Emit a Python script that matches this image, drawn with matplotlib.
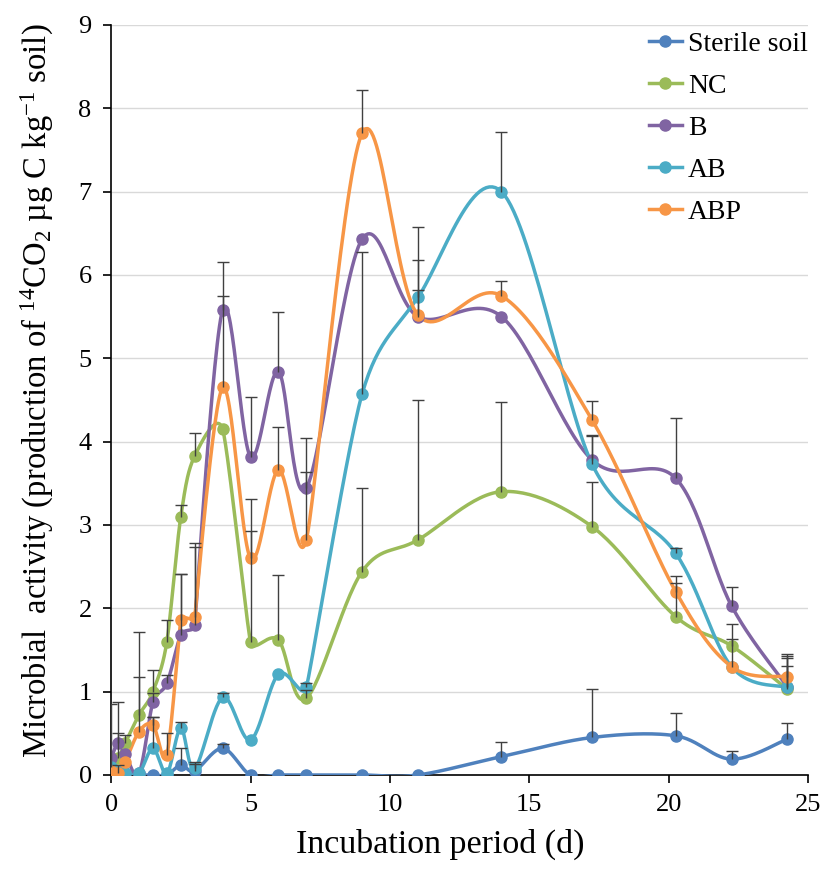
import matplotlib
matplotlib.use("Agg")
import matplotlib.pyplot as plt
import numpy as np
from matplotlib.lines import Line2D

plt.rcParams["font.family"] = ["Liberation Serif", "DejaVu Serif"]
plt.rcParams["mathtext.fontset"] = "custom"
plt.rcParams["mathtext.rm"] = "Liberation Serif"
plt.rcParams["mathtext.it"] = "Liberation Serif:italic"

# dias de incubacao
dias = [0, 0.25, 0.5, 1, 1.5, 2, 2.5, 3, 4, 5, 6, 7, 9, 11, 14, 17.25, 20.25, 22.25, 24.25]

esteril = [0.15, 0.05, 0.02, 0, 0, 0, 0.12, 0.05, 0.32, 0, 0, 0, 0, 0, 0.22, 0.45, 0.47, 0.19, 0.43]
esteril_err = [0, 0, 0, 0, 0, 0, 0.2, 0.1, 0.05, 0, 0, 0, 0, 0, 0.18, 0.58, 0.27, 0.1, 0.19]

nc = [0.1, 0.2, 0.38, 0.72, 1.0, 1.6, 3.1, 3.83, 4.15, 1.6, 1.62, 0.92, 2.44, 2.82, 3.4, 2.98, 1.9, 1.55, 1.03]
nc_err = [0.75, 0.3, 0.1, 1.0, 0.26, 0.26, 0.14, 0.27, 0, 1.33, 0.78, 0.1, 1.0, 1.68, 1.07, 0.54, 0.4, 0.26, 0.28]

b = [0.2, 0.38, 0.25, 0.02, 0.88, 1.1, 1.68, 1.8, 5.58, 3.82, 4.84, 3.44, 6.43, 5.5, 5.5, 3.78, 3.56, 2.03, 1.06]
b_err = [0, 0.5, 0, 0, 0.1, 0.1, 0.73, 0.98, 0.58, 0.72, 0.71, 0.6, 0, 0.68, 0, 0.3, 0.72, 0.22, 0.34]

ab = [0.1, 0.05, 0.02, 0.02, 0.32, 0.02, 0.56, 0.08, 0.93, 0.42, 1.21, 1.05, 4.57, 5.73, 7.0, 3.73, 2.66, 1.3, 1.05]
ab_err = [0, 0, 0, 0, 0.38, 0, 0.08, 0.05, 0.05, 0, 0, 0.05, 1.71, 0.85, 0.72, 0.34, 0.06, 0.33, 0.4]

abp = [0.05, 0.02, 0.15, 0.52, 0.6, 0.24, 1.86, 1.9, 4.65, 2.6, 3.66, 2.82, 7.7, 5.52, 5.75, 4.26, 2.2, 1.3, 1.18]
abp_err = [0, 0.1, 0, 0.66, 0.1, 0.26, 0.55, 0.84, 1.1, 0.71, 0.51, 0.82, 0.52, 0.3, 0.18, 0.23, 0.19, 0, 0.25]

series = [
    ("Sterile soil", esteril, esteril_err, "#4F81BD"),
    ("NC", nc, nc_err, "#9BBB59"),
    ("B", b, b_err, "#8064A2"),
    ("AB", ab, ab_err, "#4BACC6"),
    ("ABP", abp, abp_err, "#F79646"),
]

# escala aproximada em pixels por unidade (para a suavizacao)
SX, SY = 27.9, 83.3


def suavizar(x, y, n=30):
    # curva suave tipo Excel (Bezier com tangentes limitadas)
    p = np.column_stack([np.array(x) * SX, np.array(y) * SY]).astype(float)
    m = len(p)
    tang = np.zeros_like(p)
    for i in range(m):
        a = p[max(i - 1, 0)]
        c = p[min(i + 1, m - 1)]
        t = (c - a) / 6
        d1 = np.linalg.norm(p[i] - a) if i > 0 else np.inf
        d2 = np.linalg.norm(c - p[i]) if i < m - 1 else np.inf
        lim = 0.5 * min(d1, d2)
        nt = np.linalg.norm(t)
        if nt > lim and nt > 0:
            t = t * lim / nt
        tang[i] = t
    tt = np.linspace(0, 1, n)[:, None]
    out = []
    for i in range(m - 1):
        p1, p2 = p[i], p[i + 1]
        c1 = p1 + tang[i]
        c2 = p2 - tang[i + 1]
        seg = ((1 - tt) ** 3) * p1 + 3 * ((1 - tt) ** 2) * tt * c1 + 3 * (1 - tt) * tt ** 2 * c2 + tt ** 3 * p2
        out.append(seg if i == 0 else seg[1:])
    out = np.vstack(out)
    return out[:, 0] / SX, out[:, 1] / SY


fig = plt.figure(figsize=(8.23, 8.74), dpi=100)
ax = fig.add_axes([0.135, 0.1133, 0.847, 0.8581])

for nome, vals, err, cor in series:
    xs, ys = suavizar(dias, vals)
    ax.plot(xs, ys, "-", color=cor, lw=2.5, zorder=3)
    ax.plot(dias, vals, "o", color=cor, ms=8, zorder=4)
    # barras de erro so para cima (estilo Excel)
    topo = np.array(vals) + np.array(err)
    tem = np.array(err) > 0
    xd = np.array(dias)[tem]
    ax.vlines(xd, np.array(vals)[tem], topo[tem], color="#404040", lw=1, zorder=5)
    ax.plot(xd, topo[tem], "_", color="#404040", ms=9, mew=1, zorder=5)

ax.set_xlim(0, 25)
ax.set_ylim(0, 9)
ax.set_xticks(range(0, 26, 5))
ax.set_yticks(range(0, 10))
ax.grid(True, axis="y", color="#d9d9d9", lw=1)
ax.set_axisbelow(True)
for s in ["top", "right"]:
    ax.spines[s].set_visible(False)
ax.spines["left"].set_linewidth(1.2)
ax.spines["bottom"].set_linewidth(1.2)
ax.tick_params(axis="both", direction="out", length=6, width=1.2, labelsize=19, pad=8)

ax.set_xlabel("Incubation period (d)", fontsize=24.5)
ax.xaxis.set_label_coords(0.472, -0.072)
ax.set_ylabel(r"Microbial  activity (production of $^{\mathrm{14}}$CO$_{\mathrm{2}}$ µg C kg$^{\mathrm{-1}}$ soil)",
              fontsize=23.5)
ax.yaxis.set_label_coords(-0.079, 0.513)

handles = [Line2D([0], [0], color=c, lw=2.5, marker="o", ms=8) for _, _, _, c in series]
ax.legend(handles, [s[0] for s in series], loc="upper right", bbox_to_anchor=(1.035, 1.025),
          frameon=False, fontsize=20, handlelength=1.2, handletextpad=0.2, labelspacing=0.6,
          numpoints=1)

fig.savefig("out.png", dpi=100)
